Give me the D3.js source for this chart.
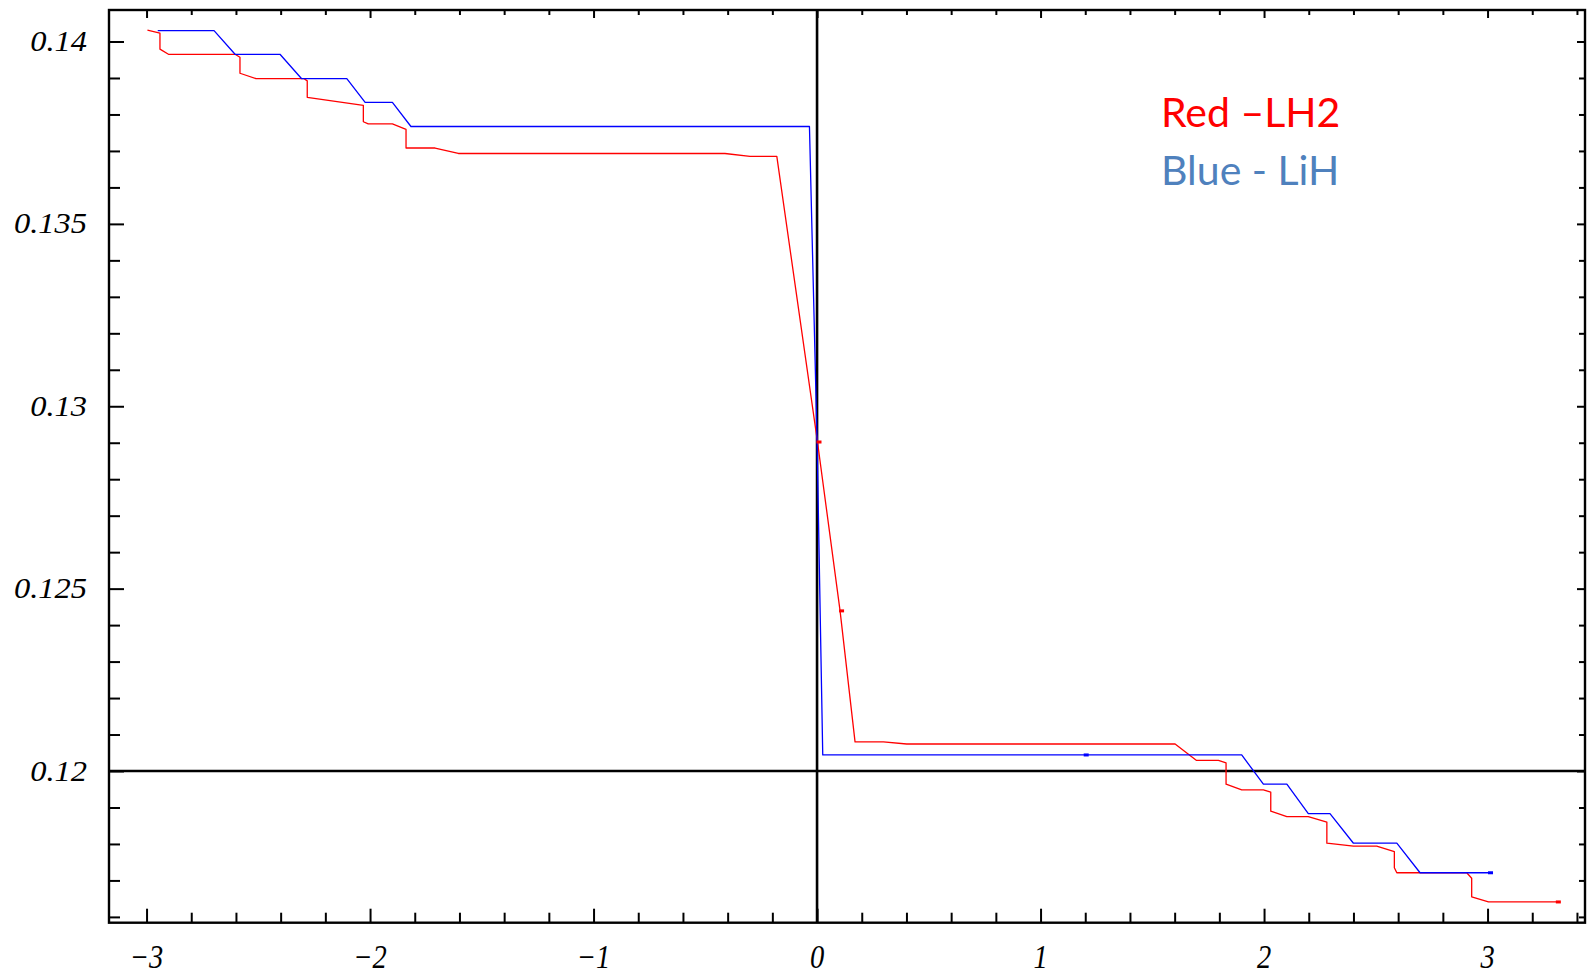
<!DOCTYPE html>
<html>
<head>
<meta charset="utf-8">
<script src="https://cdn.jsdelivr.net/npm/d3@7"></script>
<style>
  html, body { margin: 0; padding: 0; background: #fff; }
  svg { display: block; }
</style>
</head>
<body>
<svg id="chart" width="1587" height="977"></svg>
<script>
// ---- data ----
const redX = [-2.996, -2.940, -2.940, -2.902, -2.604, -2.582, -2.582, -2.510, -2.295, -2.281, -2.281, -2.030, -2.030, -2.008, -1.900, -1.839, -1.839, -1.709, -1.605, -0.412, -0.300, -0.180, 0.002, 0.103, 0.170, 0.297, 0.401, 1.602, 1.698, 1.796, 1.830, 1.830, 1.900, 1.997, 2.030, 2.030, 2.102, 2.198, 2.281, 2.281, 2.400, 2.504, 2.583, 2.583, 2.594, 2.907, 2.929, 2.929, 3.004, 3.310];
const redY = [0.14031, 0.14023, 0.13979, 0.13965, 0.13965, 0.13957, 0.13913, 0.13898, 0.13898, 0.13892, 0.13847, 0.13825, 0.13780, 0.13774, 0.13774, 0.13759, 0.13708, 0.13708, 0.13693, 0.13693, 0.13685, 0.13685, 0.12902, 0.12439, 0.12080, 0.12080, 0.12074, 0.12074, 0.12029, 0.12029, 0.12022, 0.11964, 0.11948, 0.11948, 0.11942, 0.11890, 0.11875, 0.11875, 0.11860, 0.11802, 0.11794, 0.11794, 0.11779, 0.11735, 0.11721, 0.11721, 0.11706, 0.11655, 0.11641, 0.11641];
const blueX = [-2.950, -2.698, -2.604, -2.403, -2.306, -2.104, -2.022, -1.900, -1.817, -0.034, 0.000, 0.0255, 1.900, 1.997, 2.102, 2.198, 2.295, 2.400, 2.594, 2.698, 3.011];
const blueY = [0.14030, 0.14030, 0.13965, 0.13965, 0.13898, 0.13898, 0.13833, 0.13833, 0.13767, 0.13767, 0.12907, 0.12044, 0.12044, 0.11964, 0.11964, 0.11883, 0.11883, 0.11802, 0.11802, 0.11721, 0.11721];
const redMarkX = [0.002, 0.103, 3.310];
const redMarkY = [0.12902, 0.12439, 0.11641];
const blueMarkX = [1.202, 3.011];
const blueMarkY = [0.12044, 0.11721];
const xTickLabels = ["−3", "−2", "−1", "0", "1", "2", "3"];
const xTickValues = [-3, -2, -1, 0, 1, 2, 3];
const yTickLabels = ["0.12", "0.125", "0.13", "0.135", "0.14"];
const yTickValues = [0.12, 0.125, 0.13, 0.135, 0.14];
const legendLabels = ["Red \u2013LH2", "Blue - LiH"];
const legendColors = ["#ff0000", "#4f81bd"];

// ---- layout ----
const L = 109, R = 1585, T = 10, B = 922.7;
const x = d3.scaleLinear().domain([-3.168, 3.436]).range([L, R]);
const y = d3.scaleLinear().domain([0.115841, 0.140864]).range([B, T]);

const svg = d3.select("#chart");

// minor tick values
const xMinor = d3.range(-32, 35, 2).map(v => v / 10).filter(v => v >= -3.168 && v <= 3.436);
const yMinor = d3.range(116, 141, 1).map(v => v / 1000);

function isMajorX(v) { return Math.abs(v - Math.round(v)) < 1e-9; }
function isMajorY(v) { return Math.abs(v * 200 - Math.round(v * 200)) < 1e-6; }

const g = svg.append("g");

// axes lines through origin
g.append("line").attr("x1", L).attr("x2", R).attr("y1", y(0.12)).attr("y2", y(0.12))
  .attr("stroke", "#000").attr("stroke-width", 2.6);
g.append("line").attr("x1", x(0)).attr("x2", x(0)).attr("y1", T).attr("y2", B)
  .attr("stroke", "#000").attr("stroke-width", 2.6);

// bottom ticks (d3 axis)
const bottomAxis = d3.axisBottom(x).tickValues(xMinor).tickSizeInner(0).tickSizeOuter(0).tickFormat("");
const bAx = g.append("g").attr("transform", `translate(0,${B})`).call(bottomAxis);
bAx.select(".domain").remove();
bAx.selectAll(".tick line").attr("y2", d => isMajorX(d) ? -14 : -10)
  .attr("stroke", "#000").attr("stroke-width", 2);

// top ticks
const tAx = g.append("g").attr("transform", `translate(0,${T})`).call(d3.axisTop(x).tickValues(xMinor).tickSizeInner(0).tickSizeOuter(0).tickFormat(""));
tAx.select(".domain").remove();
tAx.selectAll(".tick line").attr("y2", d => isMajorX(d) ? 8 : 5)
  .attr("stroke", "#000").attr("stroke-width", 2);

// left ticks
const lAx = g.append("g").attr("transform", `translate(${L},0)`).call(d3.axisLeft(y).tickValues(yMinor).tickSizeInner(0).tickSizeOuter(0).tickFormat(""));
lAx.select(".domain").remove();
lAx.selectAll(".tick line").attr("x2", d => isMajorY(d) ? 15 : 11)
  .attr("stroke", "#000").attr("stroke-width", 2);

// right ticks
const rAx = g.append("g").attr("transform", `translate(${R},0)`).call(d3.axisRight(y).tickValues(yMinor).tickSizeInner(0).tickSizeOuter(0).tickFormat(""));
rAx.select(".domain").remove();
rAx.selectAll(".tick line").attr("x2", d => isMajorY(d) ? -8 : -6)
  .attr("stroke", "#000").attr("stroke-width", 2);

// frame
g.append("rect").attr("x", L).attr("y", T).attr("width", R - L).attr("height", B - T)
  .attr("fill", "none").attr("stroke", "#000").attr("stroke-width", 2.4);

// tick labels
g.selectAll("text.xl").data(xTickValues).join("text")
  .attr("class", "xl")
  .attr("transform", d => `translate(${x(d)},${968}) scale(0.95,1.1)`)
  .attr("text-anchor", "middle")
  .attr("font-family", "Liberation Serif, Times New Roman, serif")
  .attr("font-style", "italic")
  .attr("font-size", 30)
  .attr("fill", "#000")
  .text((d, i) => xTickLabels[i]);

g.selectAll("text.yl").data(yTickValues).join("text")
  .attr("class", "yl")
  .attr("transform", d => `translate(87,${y(d) + 9.5}) scale(1.12,1)`)
  .attr("text-anchor", "end")
  .attr("font-family", "Liberation Serif, Times New Roman, serif")
  .attr("font-style", "italic")
  .attr("font-size", 29)
  .attr("fill", "#000")
  .text((d, i) => yTickLabels[i]);

// series
const line = d3.line().x(d => x(d[0])).y(d => y(d[1]));
const redPts = redX.map((v, i) => [v, redY[i]]);
const bluePts = blueX.map((v, i) => [v, blueY[i]]);

g.append("path").attr("d", line(redPts)).attr("fill", "none")
  .attr("stroke", "#ff0000").attr("stroke-width", 1.3).attr("stroke-linejoin", "round");
g.append("path").attr("d", line(bluePts)).attr("fill", "none")
  .attr("stroke", "#0000ff").attr("stroke-width", 1.3).attr("stroke-linejoin", "round");

// markers
g.selectAll("rect.rm").data(redMarkX).join("rect")
  .attr("x", d => x(d) - 1).attr("y", (d, i) => y(redMarkY[i]) - 1.5)
  .attr("width", 5).attr("height", 3).attr("fill", "#ff0000");
g.selectAll("rect.bm").data(blueMarkX).join("rect")
  .attr("x", d => x(d) - 2).attr("y", (d, i) => y(blueMarkY[i]) - 1.5)
  .attr("width", 5).attr("height", 3).attr("fill", "#0000ff");

// legend text
g.selectAll("text.leg").data(legendLabels).join("text")
  .attr("x", 1161)
  .attr("y", (d, i) => 127 + i * 58)
  .attr("font-family", "Lato, Open Sans, sans-serif")
  .attr("font-size", 41)
  .attr("fill", (d, i) => legendColors[i])
  .text(d => d);
</script>
</body>
</html>
